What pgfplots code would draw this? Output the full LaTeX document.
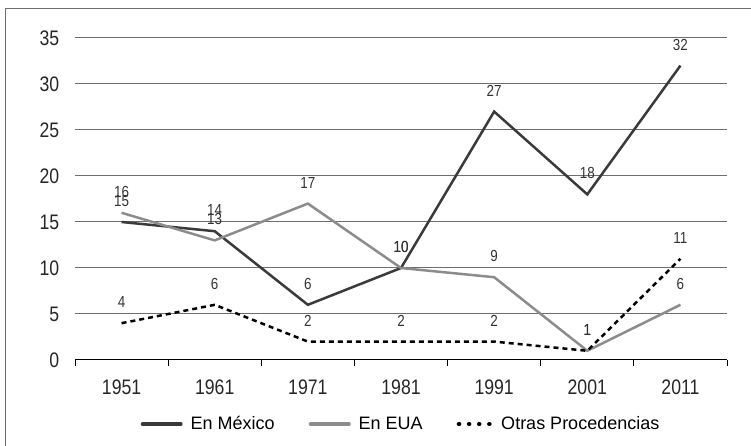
\documentclass[border=0pt]{standalone}
\usepackage{fontspec}
\setmainfont{Liberation Sans}
\newfontfamily\condfont[FakeStretch=0.84]{Liberation Sans}
\usepackage{pgfplots}
\pgfplotsset{compat=1.18}
\definecolor{mex}{HTML}{3A3A3A}
\definecolor{eua}{HTML}{8C8C8C}
\definecolor{gridc}{HTML}{6E6E6E}
\begin{document}
\begin{tikzpicture}
\begin{axis}[
  at={(0pt,0pt)}, anchor=south west,
  scale only axis, width=652pt, height=322pt,
  xmin=-0.5, xmax=6.5, ymin=0, ymax=35,
  axis lines*=left,
  y axis line style={draw=none},
  x axis line style={black, line width=1pt},
  xtick={0,...,6},
  xticklabels={1951,1961,1971,1981,1991,2001,2011},
  minor xtick={-0.5,0.5,...,6.5},
  major x tick style={draw=none},
  minor x tick style={black, line width=0.8pt},
  minor tick length=6pt,
  tick align=outside,
  ytick={0,5,...,35},
  major y tick style={draw=none},
  ymajorgrids, grid style={gridc, line width=1pt},
  /pgf/number format/assume math mode=true,
  ticklabel style={font=\condfont\fontsize{21}{22}\selectfont, text=black!85},
  yticklabel style={xshift=-8pt},
  xticklabel style={yshift=-12pt},
  nodes near coords,
  nodes near coords style={font=\condfont\fontsize{16}{17}\selectfont, text=black!80, anchor=center, yshift=21pt},
  legend style={at={(0.5,-0.199)}, anchor=center, draw=none, legend columns=3,
    font=\fontsize{18}{20}\selectfont,
    /tikz/every odd column/.append style={column sep=6pt},
    /tikz/every even column/.append style={column sep=32pt}},
  legend image code/.code={\draw[#1, line width=4pt, line cap=round] (2pt,0pt) -- (40pt,0pt);},
  clip=false,
]
\addplot[mex, line width=2.5pt, mark=none] coordinates {(0,15)(1,14)(2,6)(3,10)(4,27)(5,18)(6,32)};
\addlegendentry{En México}
\addplot[eua, line width=2.5pt, mark=none] coordinates {(0,16)(1,13)(2,17)(3,10)(4,9)(5,1)(6,6)};
\addlegendentry{En EUA}
\addplot[black, line width=2.5pt, mark=none, dash pattern=on 5pt off 4pt,
  legend image code/.code={\draw[black, line width=4.5pt, line cap=round, dash pattern=on 0.1pt off 10pt] (6pt,0pt) -- (38pt,0pt);}]
  coordinates {(0,4)(1,6)(2,2)(3,2)(4,2)(5,1)(6,11)};
\addlegendentry{Otras Procedencias}
\end{axis}
\draw[gridc, line width=1pt] (-69pt,-86pt) -- (-69pt,351pt) -- (676pt,351pt);
\pgfresetboundingbox
\path[use as bounding box] (-75pt,-86pt) rectangle (676pt,360pt);
\end{tikzpicture}
\end{document}
